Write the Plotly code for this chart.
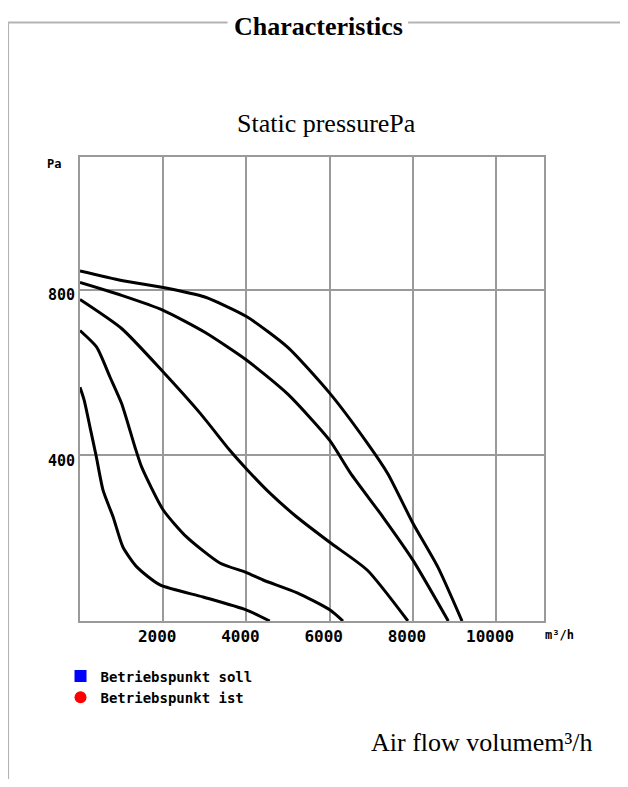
import plotly.graph_objects as go

# ---- data (air flow m³/h, static pressure Pa) ----
c1_x = [0, 1000, 2000, 3000, 4000, 5000, 6000, 6900, 7400, 8000, 8600, 9180]
c1_y = [845, 822, 805, 782, 735, 660, 550, 430, 355, 236, 130, 0]

c2_x = [0, 1000, 2000, 3000, 4000, 5000, 6000, 6500, 7280, 8000, 8850]
c2_y = [817, 786, 750, 697, 630, 547, 436, 357, 251, 147, 0]

c3_x = [0, 1000, 2000, 2900, 3600, 4000, 4570, 5210, 6000, 6900, 7880]
c3_y = [776, 706, 601, 500, 412, 367, 308, 251, 190, 123, 0]

c4_x = [0, 400, 720, 1000, 1320, 1480, 2000, 2560, 3360, 4000, 4400, 5220, 6000, 6320]
c4_y = [701, 661, 589, 525, 420, 372, 268, 203, 140, 117, 99, 68, 27, 0]

c5_x = [0, 100, 240, 385, 553, 800, 1034, 1370, 1923, 2957, 3990, 4560]
c5_y = [564, 533, 468, 400, 316, 250, 178, 130, 87, 58, 27, 0]

curves = [(c1_x, c1_y), (c2_x, c2_y), (c3_x, c3_y), (c4_x, c4_y), (c5_x, c5_y)]

x_ticks = [2000, 4000, 6000, 8000, 10000]
x_ticktext = ["2000", "4000", "6000", "8000", "10000"]
y_ticks = [400, 800]
y_ticktext = ["400", "800"]

legend_names = ["Betriebspunkt soll", "Betriebspunkt ist"]
legend_colors = ["#0000ff", "#ff0000"]
legend_symbols = ["square", "circle"]

X_RANGE = [0, 11150]
Y_RANGE = [0, 1120]

GRID = "#9a9a9a"
MONO = "DejaVu Sans Mono"
SERIF = "Liberation Serif, Times New Roman, serif"

fig = go.Figure()
for cx, cy in curves:
    fig.add_trace(go.Scatter(x=cx, y=cy, mode="lines",
                             line=dict(color="black", width=3, shape="spline", smoothing=0.6),
                             showlegend=False, hoverinfo="skip"))

for name, col, sym in zip(legend_names, legend_colors, legend_symbols):
    fig.add_trace(go.Scatter(x=[None], y=[None], mode="markers", name=name,
                             marker=dict(color=col, symbol=sym, size=12)))

fig.update_layout(
    width=612, height=771,
    margin=dict(l=72, r=76, t=149, b=158),
    paper_bgcolor="white", plot_bgcolor="white",
    showlegend=True,
    legend=dict(x=-0.042, y=-0.085, xanchor="left", yanchor="top",
                font=dict(family=MONO, size=14, color="black", weight="bold"),
                bgcolor="rgba(0,0,0,0)", itemwidth=30, tracegroupgap=0),
    xaxis=dict(range=X_RANGE, tickvals=x_ticks, ticktext=x_ticktext,
               showgrid=True, gridcolor=GRID, gridwidth=2,
               showline=True, linecolor=GRID, linewidth=2, mirror=True,
               zeroline=False, ticks="", ticklabelshift=-6,
               tickfont=dict(family=MONO, size=16, color="black", weight="bold")),
    yaxis=dict(range=Y_RANGE, tickvals=y_ticks, ticktext=y_ticktext,
               showgrid=True, gridcolor=GRID, gridwidth=2,
               showline=True, linecolor=GRID, linewidth=2, mirror=True,
               zeroline=False, ticks="", ticklabelshift=5,
               tickfont=dict(family=MONO, size=15, color="black", weight="bold")),
    font=dict(family=SERIF, color="black"),
)

def ann(text, x, y, size, family, bold=False, xanchor="center"):
    fig.add_annotation(text=text, x=x, y=y, xref="paper", yref="paper",
                       xanchor=xanchor, yanchor="middle", showarrow=False,
                       font=dict(family=family, size=size, color="black",
                                 weight="bold" if bold else "normal"))

ann("Characteristics", 0.515, 1.282, 26, SERIF, bold=True)
ann("Static pressurePa", 0.532, 1.073, 26, SERIF)
ann("Air flow volumem³/h", 0.866, -0.261, 26, SERIF)
ann("Pa", -0.055, 0.985, 12, MONO, bold=True)
ann("m³/h", 1.034, -0.030, 12, MONO, bold=True)

# fieldset frame (top line passes behind the legend text, as in a fieldset)
FS = "#b4b4b4"
TOP = 1.290
for x0, y0, x1, y1 in [(-0.155, TOP, 0.318, TOP), (0.707, TOP, 1.2, TOP),
                       (-0.155, TOP, -0.155, -0.4)]:
    fig.add_shape(type="line", xref="paper", yref="paper", x0=x0, y0=y0, x1=x1, y1=y1,
                  line=dict(color=FS, width=2))

fig.write_html("out.html")
